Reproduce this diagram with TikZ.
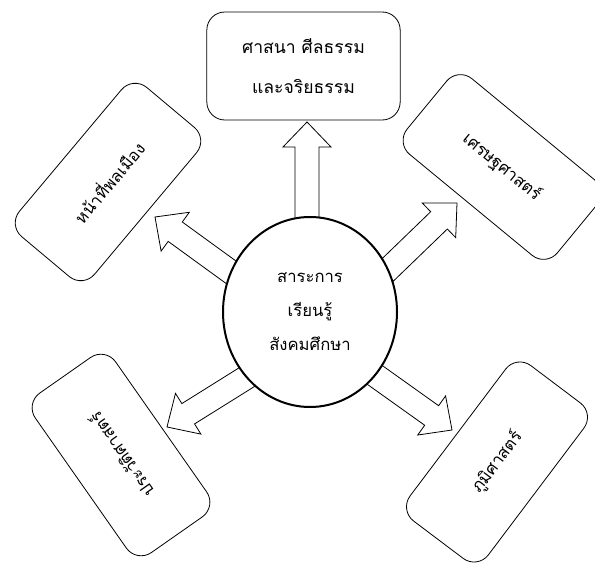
\documentclass[tikz,border=0pt]{standalone}
\usepackage{fontspec}
\newfontfamily\thaifont[Script=Thai]{Loma}
\usetikzlibrary{shapes.geometric}
\begin{document}
\begin{tikzpicture}[x=0.75pt,y=0.75pt,
  box/.style={draw, line width=0.6pt, rounded corners=13.5pt, inner sep=0pt,
    minimum width=146pt, minimum height=73.5pt, align=center,
    font=\thaifont\fontsize{12.5}{30}\selectfont},
  blk/.style={draw, fill=white, line width=0.6pt, line join=miter},
  hub/.style={ellipse, draw, line width=1.5pt, fill=white, inner sep=0pt,
    minimum width=130.5pt, minimum height=142.5pt, align=center,
    font=\thaifont\fontsize{12.5}{25.5}\selectfont}]
\useasboundingbox (0,0) rectangle (595,571);
% arrow tips
\coordinate (t1) at (307,449);
\coordinate (t2) at (155,354);
\coordinate (t3) at (457,368);
\coordinate (t4) at (167,144);
\coordinate (t5) at (452,141);
\foreach \t/\a/\l in {t1/90/100, t2/144/100, t3/44/100, t4/212/98, t5/-35.5/98}{
  \draw[blk, shift={(\t)}, rotate=\a]
    (-\l,-12) -- (-25,-12) -- (-25,-24) -- (0,0) -- (-25,24) -- (-25,12) -- (-\l,12) -- cycle;
}
% hub
\node[hub] (c) at (310,259) {สาระการ\\เรียนรู้\\สังคมศึกษา};
% boxes
\node[box, minimum width=145pt, minimum height=81pt,
  font=\thaifont\fontsize{13.2}{30}\selectfont] (rel) at (303.5,505) {ศาสนา ศีลธรรม\\และจริยธรรม};
\node[box, rotate=50] (civ) at (108,389) {หน้าที่พลเมือง};
\node[box, rotate=-39.5] (eco) at (502,404) {เศรษฐศาสตร์};
\node[box, rotate=125] (his) at (121,116) {ประวัติศาสตร์};
\node[box, rotate=53] (geo) at (497,109) {ภูมิศาสตร์};
\end{tikzpicture}
\end{document}
